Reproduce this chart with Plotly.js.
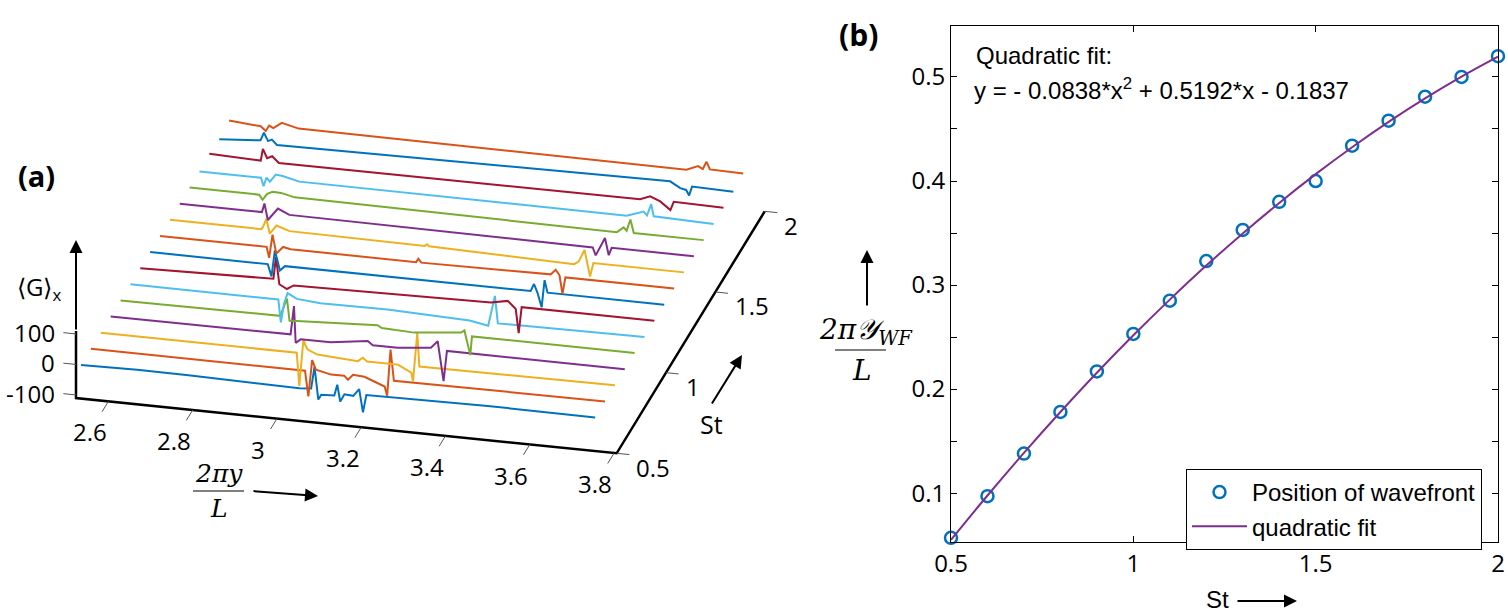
<!DOCTYPE html>
<html>
<head>
<meta charset="utf-8">
<script src="https://cdn.plot.ly/plotly-3.0.1.min.js"></script>
<style>html,body{margin:0;padding:0;background:#fff;}#chart{width:1508px;height:615px;}</style>
</head>
<body>
<div id="chart"></div>
<script>
// ---------- Panel (a) data: <G>_x versus 2*pi*y/L for each St ----------
const stValues = [0.5,0.6,0.7,0.8,0.9,1.0,1.1,1.2,1.3,1.4,1.5,1.6,1.7,1.8,1.9,2.0];

const y05 = [2.535,2.668,2.79,3.053,3.081,3.089,3.098,3.105,3.136,3.143,3.150,3.160,3.181,3.195,3.204,3.212,3.50,3.755];
const g05 = [0,3,2,-3,0,72,-34,-17,-15,21,-33,-8,-10,14,-61,-3,2,0];
const y06 = [2.535,3.043,3.051,3.060,3.069,3.105,3.136,3.145,3.157,3.184,3.232,3.238,3.246,3.254,3.755];
const g06 = [0,0,-83,37,7,-4,-3,-15,3,0,-25,-54,98,-3,0];
const y07 = [2.535,3.000,3.006,3.016,3.020,3.026,3.049,3.145,3.157,3.167,3.240,3.272,3.276,3.286,3.291,3.755];
const g07 = [0,0,-109,48,28,14,1,-7,6,-5,-5,-27,-55,106,-4,0];
const y08 = [2.535,2.962,2.970,2.974,2.986,3.057,3.145,3.157,3.216,3.295,3.311,3.325,3.333,3.755];
const g08 = [0,2,96,-24,-11,-10,6,-6,-6,5,29,-100,0,0];
const y09 = [2.535,2.914,2.930,2.936,2.954,3.033,3.145,3.155,3.232,3.343,3.351,3.365,3.369,3.755];
const g09 = [0,3,62,-10,-8,-2,5,-3,-7,9,17,-62,0,0];
const y10 = [2.535,2.886,2.892,2.900,2.908,2.930,2.986,3.145,3.340,3.384,3.400,3.407,3.755];
const g10 = [0,0,-74,-10,24,8,2,4,-5,-16,84,-5,0];
const y11 = [2.535,2.851,2.857,2.865,2.883,2.899,3.367,3.407,3.426,3.433,3.440,3.755];
const g11 = [0,10,82,-6,-19,-5,5,16,-8,-86,0,0];
const y12 = [2.535,2.814,2.823,2.831,2.843,2.855,3.438,3.446,3.454,3.464,3.471,3.478,3.755];
const g12 = [0,0,-39,47,-17,-1,0,24,-3,-50,40,0,0];
const y13 = [2.535,2.788,2.794,2.802,2.811,2.827,2.845,3.143,3.148,3.155,3.462,3.474,3.483,3.490,3.497,3.755];
const g13 = [0,0,-35,42,-19,5,0,0,12,0,5,22,5,-55,0,0];
const y14 = [2.535,2.752,2.756,2.764,2.772,2.788,2.819,3.140,3.145,3.150,3.494,3.505,3.519,3.532,3.540,3.755];
const g14 = [0,0,8,35,-12,17,3,0,6,0,-10,0,40,-45,0,0];
const y15 = [2.535,2.730,2.736,2.744,2.768,2.795,3.515,3.522,3.535,3.544,3.553,3.560,3.755];
const g15 = [0,0,29,-24,17,0,-5,-30,5,30,-25,0,0];
const y16 = [2.535,2.700,2.708,2.719,2.732,2.752,2.784,3.549,3.565,3.572,3.581,3.589,3.755];
const g16 = [0,0,-16,5,14,13,3,-3,15,5,43,0,0];
const y17 = [2.535,2.681,2.687,2.694,2.702,2.716,2.732,2.772,3.549,3.589,3.597,3.607,3.613,3.755];
const g17 = [0,0,-27,2,-10,15,13,0,-2,17,6,44,5,0];
const y18 = [2.535,2.657,2.662,2.672,2.684,2.700,3.557,3.581,3.605,3.629,3.637,3.755];
const g18 = [5,0,39,10,18,-2,0,13,0,-25,3,0];
const y19 = [2.535,2.633,2.641,2.651,2.660,2.672,3.605,3.629,3.643,3.650,3.657,3.755];
const g19 = [0,10,36,10,16,0,13,-6,-10,-27,3,0];
const y20 = [2.535,2.610,2.622,2.630,2.640,2.660,2.700,3.620,3.648,3.659,3.668,3.676,3.755];
const g20 = [8,0,-14,5,-2,18,5,0,16,8,33,9,7];

const waterfallY = [y05,y06,y07,y08,y09,y10,y11,y12,y13,y14,y15,y16,y17,y18,y19,y20];
const waterfallG = [g05,g06,g07,g08,g09,g10,g11,g12,g13,g14,g15,g16,g17,g18,g19,g20];

const yRangeA = [2.523, 3.806];
const stRangeA = [0.5, 2];
const gRangeA = [-110, 110];
const xTicksA = [2.6,2.8,3,3.2,3.4,3.6,3.8];
const stTicks = [0.5,1,1.5,2];
const gTicks = [-100,0,100];

// ---------- Panel (b) data ----------
const stPoints = [0.5,0.6,0.7,0.8,0.9,1.0,1.1,1.2,1.3,1.4,1.5,1.6,1.7,1.8,1.9,2.0];
const wavefrontPos = [0.057,0.097,0.138,0.178,0.217,0.253,0.285,0.323,0.353,0.380,0.400,0.434,0.458,0.481,0.500,0.520];
const fitPos = [0.0550,0.0977,0.1387,0.1780,0.2157,0.2517,0.2860,0.3187,0.3496,0.3789,0.4066,0.4325,0.4568,0.4794,0.5003,0.5195];
const xTicksB = [0.5,1,1.5,2];
const yTicksB = [0.1,0.15,0.2,0.25,0.3,0.35,0.4,0.45,0.5];
const yTickTextB = ['0.1','','0.2','','0.3','','0.4','','0.5'];

// ---------- styles / view ----------
const matlabColors = ['#0072BD','#D95319','#EDB120','#7E2F8E','#77AC30','#4DBEEE','#A2142F'];
const W = 1508, H = 615;
const px = v => v / W;
const py = v => 1 - v / H;

// fixed oblique view of the 3-D box (MATLAB-like orthographic view)
const VIEW = {x0: 76, y0: 398, ax: 421.4, ay: 43.1, bx: 98.7, by: -161.3, cz: 0.305};
function proj(yd, st, g) {
  const u = yd - yRangeA[0], v = st - stRangeA[0], w = g - gRangeA[0];
  return [VIEW.x0 + u * VIEW.ax + v * VIEW.bx, VIEW.y0 + u * VIEW.ay + v * VIEW.by - w * VIEW.cz];
}
function projLine(pts) {
  const xs = [], ys = [];
  pts.forEach(p => {
    if (p === null) { xs.push(null); ys.push(null); return; }
    const q = proj(p[0], p[1], p[2]); xs.push(q[0]); ys.push(q[1]);
  });
  return {x: xs, y: ys};
}

const traces = [];
stValues.forEach((st, k) => {
  const pl = projLine(waterfallY[k].map((yd, i) => [yd, st, waterfallG[k][i]]));
  traces.push({
    type: 'scatter', mode: 'lines', x: pl.x, y: pl.y, xaxis: 'x2', yaxis: 'y2',
    line: {color: matlabColors[k % 7], width: 2}, showlegend: false, hoverinfo: 'skip', cliponaxis: false
  });
});

// box edges of panel (a)
const edges = projLine([
  [yRangeA[0], stRangeA[0], gRangeA[1]], [yRangeA[0], stRangeA[0], gRangeA[0]],
  [yRangeA[1], stRangeA[0], gRangeA[0]], [yRangeA[1], stRangeA[1], gRangeA[0]]
]);
traces.push({type: 'scatter', mode: 'lines', x: edges.x, y: edges.y, xaxis: 'x2', yaxis: 'y2',
  line: {color: '#000', width: 2.5}, showlegend: false, hoverinfo: 'skip', cliponaxis: false});

// tick marks of panel (a)
const tickPts = [];
xTicksA.forEach(t => { tickPts.push([t, stRangeA[0], gRangeA[0]], [t, stRangeA[0] - 0.065, gRangeA[0]], null); });
stTicks.forEach(t => { tickPts.push([yRangeA[1], t, gRangeA[0]], [yRangeA[1] + 0.03, t, gRangeA[0]], null); });
gTicks.forEach(t => { tickPts.push([yRangeA[0], stRangeA[0], t], [yRangeA[0] - 0.03, stRangeA[0], t], null); });
const tk = projLine(tickPts);
traces.push({type: 'scatter', mode: 'lines', x: tk.x, y: tk.y, xaxis: 'x2', yaxis: 'y2',
  line: {color: '#555', width: 1}, showlegend: false, hoverinfo: 'skip', cliponaxis: false});

// panel (b)
traces.push({
  type: 'scatter', mode: 'markers', x: stPoints, y: wavefrontPos,
  name: 'Position of wavefront', xaxis: 'x', yaxis: 'y', cliponaxis: false,
  marker: {symbol: 'circle-open', size: 12, color: '#0072BD', line: {width: 2.5, color: '#0072BD'}}
});
traces.push({
  type: 'scatter', mode: 'lines', x: stPoints, y: fitPos, line: {shape: 'spline', color: '#7E2F8E', width: 2},
  name: 'quadratic fit', xaxis: 'x', yaxis: 'y'
});

const tickFontA = {family: 'Open Sans, sans-serif', size: 24, color: '#000'};
const annotations = [];
xTicksA.forEach(t => {
  const q = proj(t, stRangeA[0] - 0.19, gRangeA[0]);
  annotations.push({xref: 'x2', yref: 'y2', x: q[0], y: q[1], text: String(t), showarrow: false,
    xanchor: 'center', yanchor: 'middle', font: tickFontA});
});
stTicks.forEach(t => {
  const q = proj(yRangeA[1] + 0.042, t, gRangeA[0]);
  annotations.push({xref: 'x2', yref: 'y2', x: q[0], y: q[1], yshift: -12, text: String(t), showarrow: false,
    xanchor: 'left', yanchor: 'middle', font: tickFontA});
});
gTicks.forEach(t => {
  const q = proj(yRangeA[0] - 0.045, stRangeA[0], t);
  annotations.push({xref: 'x2', yref: 'y2', x: q[0], y: q[1], text: String(t), showarrow: false,
    xanchor: 'right', yanchor: 'middle', font: tickFontA});
});
const zTop = proj(yRangeA[0], stRangeA[0], gRangeA[1]);

const A = (x, y, text, size, family, extra) => Object.assign({xref: 'paper', yref: 'paper', x: px(x), y: py(y),
  text: text, showarrow: false, xanchor: 'center', yanchor: 'middle', font: {family: family, size: size, color: '#000'}}, extra || {});
const ARROW = (hx, hy, tx, ty) => ({xref: 'paper', yref: 'paper', x: px(hx), y: py(hy), ax: tx - hx, ay: ty - hy,
  text: '', showarrow: true, arrowhead: 2, arrowsize: 1.3, arrowwidth: 2, arrowcolor: '#000', standoff: 0, startstandoff: 0});

const sans = 'Open Sans, sans-serif';
const arial = 'Liberation Sans, Arial, sans-serif';
const serif = 'DejaVu Serif, serif';
annotations.push(
  A(36, 176, '<b>(a)</b>', 29, sans),
  A(858, 35, '<b>(b)</b>', 30, sans),
  A(39, 288, '⟨G⟩<sub>x</sub>', 24, sans),
  ARROW(zTop[0], 240, zTop[0], zTop[1]),
  A(219, 473, '<i>2πy</i>', 25, serif),
  A(219, 508, '<i>L</i>', 25, serif),
  ARROW(318, 496, 252, 491),
  A(711, 424, 'St', 25, sans),
  ARROW(742, 355, 711, 405),
  A(974, 55, 'Quadratic fit:', 24, arial, {xanchor: 'left'}),
  A(972, 89, 'y = - 0.0838*x<sup>2</sup> + 0.5192*x - 0.1837', 24, arial, {xanchor: 'left'}),
  A(866, 331, '<i>2π𝒴<sub>WF</sub></i>', 28, serif),
  A(862, 370, '<i>L</i>', 28, serif),
  ARROW(867, 250, 867, 307),
  A(1217, 599, 'St', 24, arial),
  ARROW(1297, 601, 1236, 601)
);

const layout = {
  width: W, height: H,
  margin: {l: 0, r: 0, t: 0, b: 0},
  paper_bgcolor: '#fff', plot_bgcolor: 'rgba(0,0,0,0)',
  hovermode: false,
  showlegend: true,
  font: {family: arial, color: '#000'},
  xaxis2: {domain: [0, 1], range: [0, W], visible: false, fixedrange: true, anchor: 'y2'},
  yaxis2: {domain: [0, 1], range: [H, 0], visible: false, fixedrange: true, anchor: 'x2'},
  xaxis: {
    domain: [px(951), px(1498)], anchor: 'y',
    range: [0.5, 2], tickvals: xTicksB, ticktext: ['0.5','1','1.5','2'],
    showline: true, linecolor: '#000', linewidth: 1, mirror: 'ticks',
    ticks: 'inside', ticklen: 6, tickcolor: '#000',
    showgrid: false, zeroline: false,
    tickfont: {family: sans, size: 24, color: '#000'}
  },
  yaxis: {
    domain: [py(542), py(26)], anchor: 'x',
    range: [0.053, 0.549], tickvals: yTicksB, ticktext: yTickTextB,
    showline: true, linecolor: '#000', linewidth: 1, mirror: 'ticks',
    ticks: 'inside', ticklen: 6, tickcolor: '#000',
    showgrid: false, zeroline: false,
    tickfont: {family: sans, size: 24, color: '#000'}
  },
  legend: {
    x: px(1186), y: py(469), xanchor: 'left', yanchor: 'top',
    bordercolor: '#000', borderwidth: 1, bgcolor: '#fff',
    font: {family: arial, size: 24, color: '#000'},
    tracegroupgap: 0, itemwidth: 55
  },
  shapes: [
    {type: 'line', xref: 'paper', yref: 'paper', x0: px(193), x1: px(244), y0: py(491), y1: py(491), line: {color: '#000', width: 1}},
    {type: 'line', xref: 'paper', yref: 'paper', x0: px(835), x1: px(886), y0: py(350), y1: py(350), line: {color: '#000', width: 1}}
  ],
  annotations: annotations
};

Plotly.newPlot('chart', traces, layout, {staticPlot: true, displayModeBar: false});
</script>
</body>
</html>
